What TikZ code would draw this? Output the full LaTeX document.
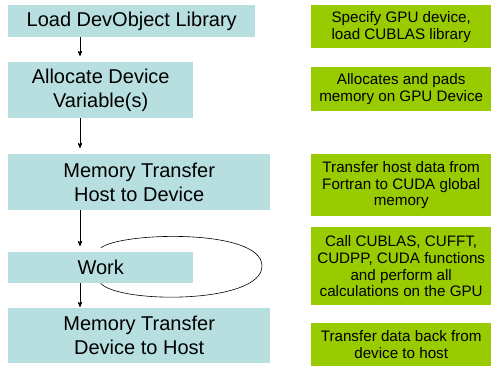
\documentclass[tikz,border=0pt]{standalone}
\usepackage{fontspec}
\setmainfont{Liberation Sans}
\usepackage{tikz}
\usetikzlibrary{arrows}

\definecolor{stepblue}{RGB}{184,223,224}
\definecolor{nvgreen}{RGB}{153,204,0}

\begin{document}
\begin{tikzpicture}[x=1pt,y=-1pt,>=stealth',
	task/.style={fill=stepblue,anchor=north west,inner sep=0pt,align=center,
	  font=\fontsize{20}{24}\selectfont},
	remark/.style={fill=nvgreen,anchor=north west,inner sep=0pt,align=center,
	  minimum width=180,font=\fontsize{15.2}{16.8}\selectfont}]
	     \useasboundingbox (0,0) rectangle (491,366);
	     \coordinate (spine) at (80,0);

	     % flow of the program
	     \node[task, minimum width=247, minimum height=32] (load) at (8,5) {Load DevObject Library};
	     \node[task, minimum width=185, minimum height=56] (alloc) at (8,62) {Allocate Device\\Variable(s)};
	     \node[task, minimum width=262, minimum height=56] (htod) at (8,154) {Memory Transfer\\Host to Device};
	     \node[task, minimum width=185, minimum height=31] (work) at (8,252) {Work};
	     \node[task, minimum width=262, minimum height=55] (dtoh) at (8,308) {Memory Transfer\\Device to Host};

	     % notes on the right
	     \node[remark, minimum height=43] (spec) at (311,5) {Specify GPU device,\\load CUBLAS library};
	     \node[remark, minimum height=44] (pads) at (311,67) {Allocates and pads\\memory on GPU Device};
	     \node[remark, minimum height=62] (xfer) at (311,154) {Transfer host data from\\Fortran to CUDA global\\memory};
	     \node[remark, minimum height=78] (calls) at (311,227) {Call CUBLAS, CUFFT,\\CUDPP, CUDA functions\\and perform all\\calculations on the GPU};
	     \node[remark, minimum height=43] (back) at (311,323) {Transfer data back from\\device to host};

	     \path[->,line width=0.8pt,shorten >=6pt]
	       (spine |- load.south) edge (spine |- alloc.north)
	       (spine |- alloc.south) edge (spine |- htod.north)
	       (spine |- htod.south) edge (spine |- work.north)
	       (spine |- work.south) edge [shorten >=1pt] (spine |- dtoh.north)
	     ;
	     \draw[line width=0.6pt] ([yshift=4pt]work.north) .. controls (120,232) and (262,228) .. (262,266)
	       .. controls (262,304) and (120,304) .. (work.south);
            \end{tikzpicture}
\end{document}
